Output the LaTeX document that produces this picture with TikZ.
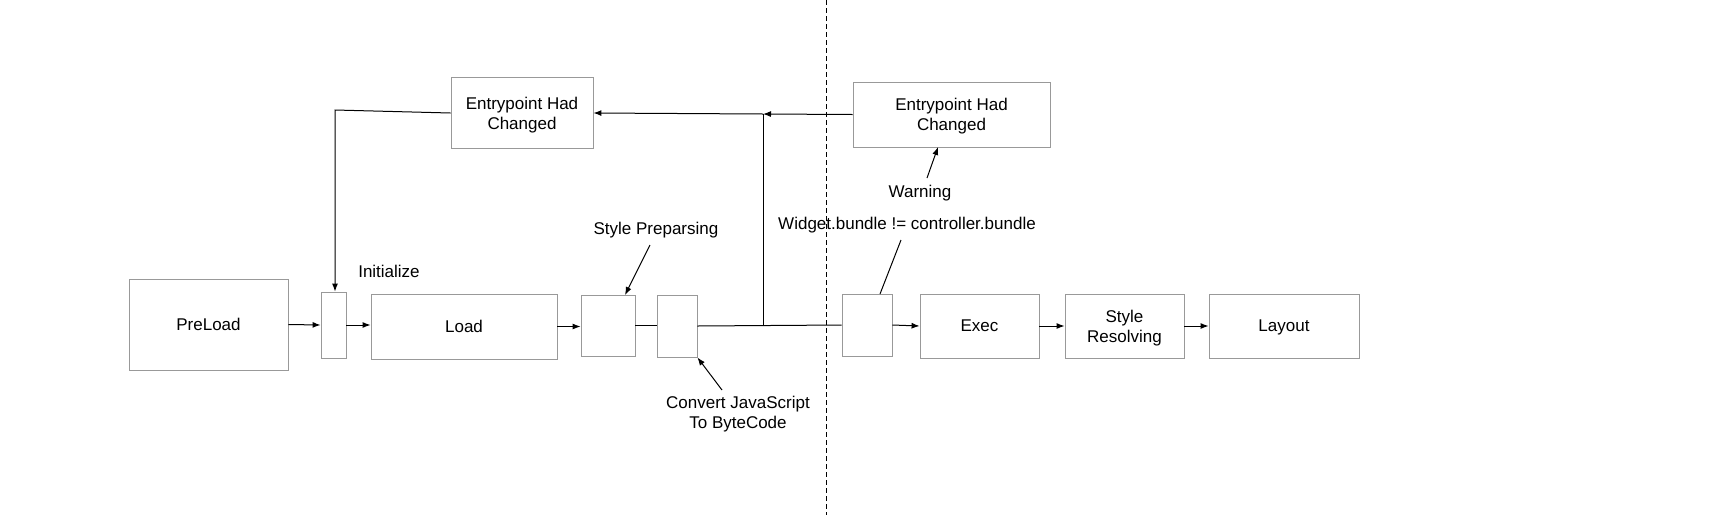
\documentclass[tikz,border=0pt]{standalone}
\usepackage{fontspec}
\setmainfont{Liberation Sans}
\usetikzlibrary{arrows.meta,calc}
\begin{document}
\begin{tikzpicture}[x=1pt,y=-1pt,
  box/.style={draw=black!40,line width=0.9pt,inner sep=0pt,align=center,text depth=0pt,font=\fontsize{17}{20}\selectfont},
  lbl/.style={inner sep=0pt,align=center,font=\fontsize{17}{20}\selectfont},
  conn/.style={line width=1pt,black},
  arr/.style={conn,-{Latex[length=8pt,width=6pt]}}]
\useasboundingbox (0,0) rectangle (1727,515);
% boxes
\node[box,minimum width=159pt,minimum height=91pt] (pre) at (208.5,324.5) {PreLoad};
\node[box,minimum width=25pt,minimum height=66pt] (b1) at (333.5,325) {};
\node[box,minimum width=186pt,minimum height=65pt] (load) at (464,326.5) {Load};
\node[box,minimum width=54pt,minimum height=61pt] (b2) at (608,325.5) {};
\node[box,minimum width=40pt,minimum height=62pt] (b3) at (677,326) {};
\node[box,minimum width=50pt,minimum height=62pt] (b4) at (867,325) {};
\node[box,minimum width=119pt,minimum height=64pt] (exec) at (979.5,326) {Exec};
\node[box,minimum width=119pt,minimum height=64pt] (sr) at (1124.5,326) {Style\\Resolving};
\node[box,minimum width=150pt,minimum height=64pt] (lay) at (1284,326) {Layout};
\node[box,minimum width=142pt,minimum height=71pt] (el) at (522,113) {Entrypoint Had\\Changed};
\node[box,minimum width=197pt,minimum height=65pt] (er) at (951.5,114.5) {Entrypoint Had\\Changed};
% labels
\node[lbl] (init) at (389,271) {Initialize};
\node[lbl] (sp) at (656,230) {Style Preparsing};
\node[lbl] (cv) at (738,414) {Convert JavaScript\\To ByteCode};
\node[lbl] (warn) at (920,193) {Warning};
\node[lbl] (wb) at (907,225) {Widget.bundle != controller.bundle};
% dashed divider
\coordinate (dtop) at (826,0);
\coordinate (dbot) at (826,515);
\draw[line width=0.9pt,dash pattern=on 5pt off 3pt] (dtop) -- (dbot);
% main flow
\draw[arr] (pre.east) -- (b1.west);
\draw[arr] (b1.east) -- (load.west |- b1.east);
\draw[arr] (load.east) -- (b2.west |- load.east);
\draw[conn] (b2.east) -- (b3.west |- b2.east);
\draw[conn] (b3.east) -- (b4.west);
\draw[arr] (b4.east) -- (exec.west);
\draw[arr] (exec.east) -- (sr.west);
\draw[arr] (sr.east) -- (lay.west);
% feedback loop
\coordinate (j) at (763,326);
\coordinate (t) at (763,114);
\draw[conn] (j) -- (t);
\draw[arr] (er.west) -- (t);
\draw[arr] (t) -- (el.east);
\coordinate (c) at (335,110);
\draw[arr] (el.west) -- (c) -- (c |- b1.north);
% annotation arrows
\coordinate (sps) at (650,245);
\coordinate (spe) at (625,295);
\draw[arr] (sps) -- (spe);
\coordinate (cvs) at (722,390);
\draw[arr] (cvs) -- (b3.south east);
\coordinate (ws) at (927,178);
\coordinate (we) at (938,147);
\draw[arr] (ws) -- (we);
\coordinate (wbs) at (901,240);
\coordinate (wbe) at (880,294);
\draw[conn] (wbs) -- (wbe);
\end{tikzpicture}
\end{document}
